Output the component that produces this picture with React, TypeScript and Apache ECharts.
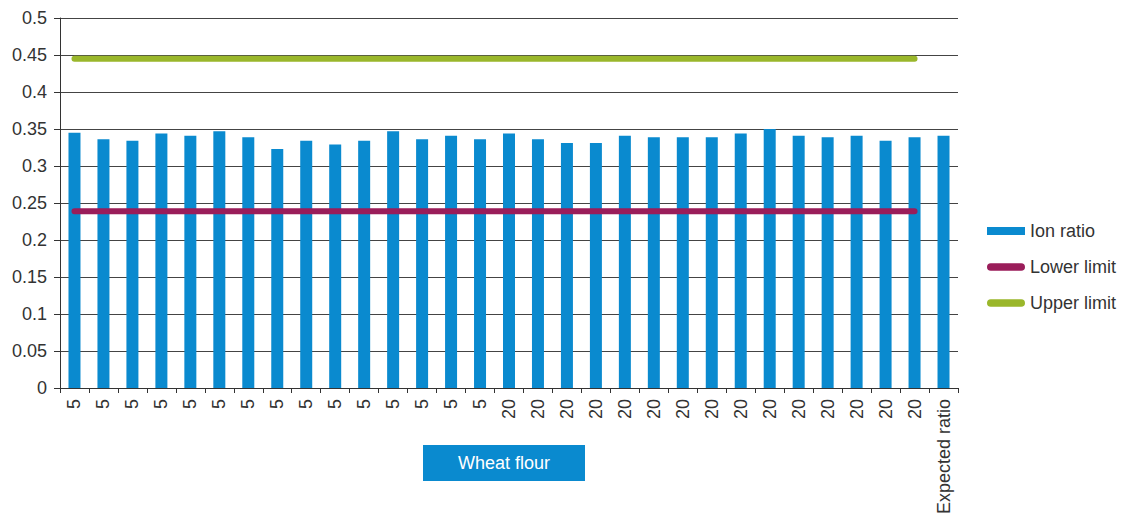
import React, { useEffect, useRef } from "react";
import * as echarts from "echarts";

const categories: string[] = [
  "5", "5", "5", "5", "5", "5", "5", "5", "5", "5", "5", "5", "5", "5", "5",
  "20", "20", "20", "20", "20", "20", "20", "20", "20", "20", "20", "20", "20", "20", "20",
  "Expected ratio",
];

const ionRatio: number[] = [
  0.345, 0.336, 0.334, 0.344, 0.341, 0.347, 0.339, 0.323, 0.334, 0.329, 0.334, 0.347, 0.336, 0.341, 0.336,
  0.344, 0.336, 0.331, 0.331, 0.341, 0.339, 0.339, 0.339, 0.344, 0.35, 0.341, 0.339, 0.341, 0.334, 0.339,
  0.341,
];

const lowerLimitValue = 0.239;
const upperLimitValue = 0.445;
const limitCount = 30; // limits drawn over the 30 sample categories, not the expected ratio

const lowerLimit: (number | string)[] = categories.map((_, i) => (i < limitCount ? lowerLimitValue : "-"));
const upperLimit: (number | string)[] = categories.map((_, i) => (i < limitCount ? upperLimitValue : "-"));

const groupLabel = "Wheat flour";

const BLUE = "#0a8acf";
const MAROON = "#9a1d5a";
const GREEN = "#9ab72b";
const FONT = "'Liberation Sans', Arial, sans-serif";
const capsule = "path://M4,0 H36 A4,4 0 0 1 36,8 H4 A4,4 0 0 1 4,0 Z";

export default function App() {
  const ref = useRef<HTMLDivElement>(null);
  useEffect(() => {
    document.body.style.margin = "0";
    if (!ref.current) return;
    const chart = echarts.init(ref.current, null, { renderer: "svg" });
    chart.setOption({
      animation: false,
      backgroundColor: "#ffffff",
      textStyle: { fontFamily: FONT },
      grid: { left: 60, right: 164, top: 18, bottom: 132 },
      legend: {
        orient: "vertical",
        left: 982,
        top: 216,
        itemWidth: 38,
        itemHeight: 8,
        itemGap: 16,
        textStyle: { fontFamily: FONT, fontSize: 18, color: "#333", lineHeight: 20 },
        data: [
          { name: "Ion ratio", icon: "rect" },
          { name: "Lower limit", icon: capsule },
          { name: "Upper limit", icon: capsule },
        ],
      },
      xAxis: {
        type: "category",
        data: categories,
        boundaryGap: true,
        axisLine: { show: true, lineStyle: { color: "#333", width: 1 } },
        axisTick: { show: true, length: 5, lineStyle: { color: "#333" } },
        axisLabel: {
          interval: 0,
          rotate: 90,
          margin: 11,
          fontSize: 18,
          color: "#333",
          fontFamily: FONT,
        },
      },
      yAxis: {
        type: "value",
        min: 0,
        max: 0.5,
        interval: 0.05,
        axisLine: { show: true, lineStyle: { color: "#333", width: 1 } },
        axisTick: { show: true, length: 6, lineStyle: { color: "#333" } },
        axisLabel: { fontSize: 18, color: "#333", margin: 13, fontFamily: FONT },
        splitLine: { show: true, lineStyle: { color: "#444", width: 1.2 } },
      },
      series: [
        {
          name: "Ion ratio",
          type: "bar",
          data: ionRatio,
          barWidth: 12,
          itemStyle: { color: BLUE },
        },
        {
          name: "Lower limit",
          type: "line",
          data: lowerLimit,
          symbol: "none",
          lineStyle: { color: MAROON, width: 6, cap: "round" },
          itemStyle: { color: MAROON },
        },
        {
          name: "Upper limit",
          type: "line",
          data: upperLimit,
          symbol: "none",
          lineStyle: { color: GREEN, width: 6, cap: "round" },
          itemStyle: { color: GREEN },
        },
      ],
      graphic: [
        {
          type: "group",
          left: 423,
          top: 445,
          children: [
            { type: "rect", shape: { x: 0, y: 0, width: 162, height: 36 }, style: { fill: BLUE } },
            {
              type: "text",
              x: 81,
              y: 18,
              style: {
                text: groupLabel,
                fill: "#ffffff",
                font: `18px ${FONT}`,
                align: "center",
                verticalAlign: "middle",
              },
            },
          ],
        },
      ],
    });
    return () => chart.dispose();
  }, []);
  return <div ref={ref} style={{ width: 1122, height: 520 }} />;
}
